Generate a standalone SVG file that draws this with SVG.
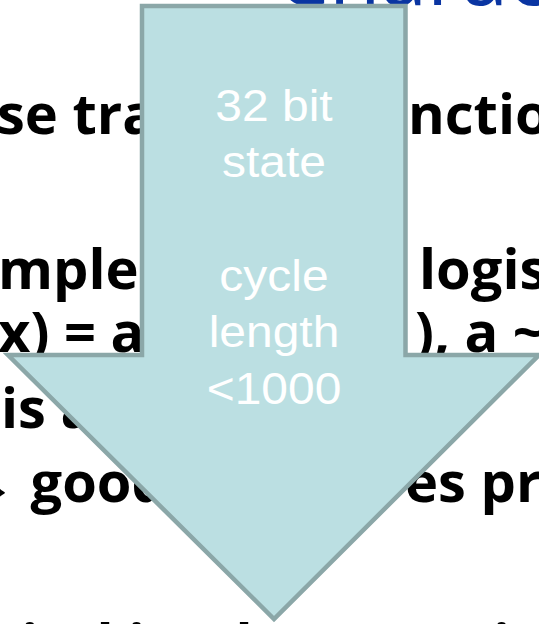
<svg xmlns="http://www.w3.org/2000/svg" width="539" height="624" viewBox="0 0 539 624">
  <style>
    .title { font-family: "Open Sans", "Noto Sans", sans-serif; font-size: 84px; fill: #0a35a2; }
    .body { font-family: "Open Sans", "Noto Sans", sans-serif; font-weight: 700; font-size: 56px; fill: #000000; }
    .arrow-shape { fill: #bbdfe2; stroke: #8ba7a8; stroke-width: 4.5; stroke-linejoin: miter; }
    .label { font-family: "Liberation Sans", Arial, sans-serif; font-size: 44px; fill: #ffffff; text-anchor: middle; }
  </style>
  <rect width="539" height="624" fill="#ffffff"/>

  <!-- slide text behind the arrow -->
  <g id="slide-text">
    <text class="title" x="276" y="5">Characteristics</text>
    <text class="body" x="-3" y="134">se tra</text>
    <text class="body" x="408" y="134">nctio</text>
    <text class="body" x="-2" y="289">mple</text>
    <text class="body" x="419" y="289">logis</text>
    <text class="body" x="-2" y="352">x) = a</text>
    <text class="body" x="415" y="352">), a ~</text>
    <text class="body" x="1" y="428">is a</text>
    <text class="body" x="-40" y="502">→ good</text>
    <text class="body" x="405" y="502">es pr</text>
    <text class="body" x="-63" y="664">digital implementation</text>
  </g>

  <!-- big down arrow -->
  <g id="arrow">
    <polygon class="arrow-shape" points="142,6 405.5,6 405.5,355 539,355 274,619 8,355 142,355"/>
  </g>

  <!-- label inside the arrow -->
  <g id="arrow-label" transform="translate(274 0) scale(1.09 1)">
    <text class="label" x="0" y="121">32 bit</text>
    <text class="label" x="0" y="177.5">state</text>
    <text class="label" x="0" y="291">cycle</text>
    <text class="label" x="0" y="347.5">length</text>
    <text class="label" x="0" y="404">&lt;1000</text>
  </g>
</svg>
